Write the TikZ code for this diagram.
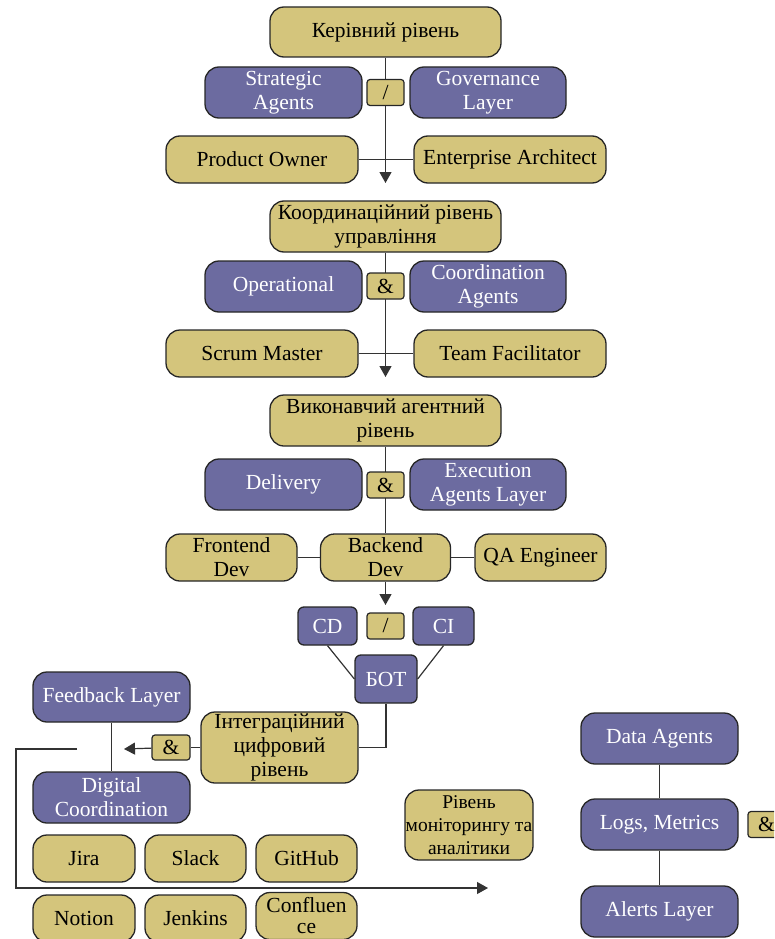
\documentclass[tikz,border=0pt]{standalone}
\usepackage{fontspec}
\setmainfont{Liberation Serif}
\usetikzlibrary{arrows.meta,backgrounds}
\definecolor{khaki}{RGB}{212,197,124}
\definecolor{slate}{RGB}{108,107,160}
\begin{document}
\begin{tikzpicture}[x=1pt,y=-1pt,
    box/.style={draw=black!85,line width=1.3pt,rounded corners=14pt,inner sep=0pt,
      align=center,font=\fontsize{21.5}{24}\selectfont},
    tanbox/.style={box,fill=khaki,text=black},
    bluebox/.style={box,fill=slate,text=white},
    op/.style={draw=black!85,line width=1.2pt,rounded corners=3pt,fill=khaki,inner sep=0pt,
      minimum width=37pt,minimum height=26pt,font=\fontsize{21.5}{24}\selectfont},
    link/.style={draw=black!80,line width=1.2pt},
    arr/.style={link,-{Triangle[width=12pt,length=11pt]}}]
\useasboundingbox (0,0) rectangle (774,939);
\clip (0,0) rectangle (774,939);
% level 1
\node[tanbox,minimum width=231pt,minimum height=50pt] (lvl1) at (385.5,32) {Керівний рівень};
\node[bluebox,minimum width=157pt,minimum height=51pt] (strat) at (283.5,92.5) {Strategic\\Agents};
\node[op] (or1) at (385.5,92.5) {/};
\node[bluebox,minimum width=156pt,minimum height=51pt] (gov) at (488,92.5) {Governance\\Layer};
\node[tanbox,minimum width=192pt,minimum height=47pt] (po) at (262,159.5) {Product Owner};
\node[tanbox,minimum width=192pt,minimum height=47pt] (ea) at (510,159.5) {Enterprise Architect};
\coordinate (tip1) at (385.5,183);
% level 2
\node[tanbox,minimum width=231pt,minimum height=51pt] (lvl2) at (385.5,226.5) {Координаційний рівень\\управління};
\node[bluebox,minimum width=157pt,minimum height=51pt] (oper) at (283.5,286.5) {Operational};
\node[op] (and1) at (385.5,286) {\&};
\node[bluebox,minimum width=156pt,minimum height=51pt] (coord) at (488,286.5) {Coordination\\Agents};
\node[tanbox,minimum width=192pt,minimum height=47pt] (sm) at (262,353.5) {Scrum Master};
\node[tanbox,minimum width=192pt,minimum height=47pt] (tf) at (510,353.5) {Team Facilitator};
\coordinate (tip2) at (385.5,377);
% level 3
\node[tanbox,minimum width=231pt,minimum height=51pt] (lvl3) at (385.5,420.5) {Виконавчий агентний\\рівень};
\node[bluebox,minimum width=157pt,minimum height=51pt] (deliv) at (283.5,484.5) {Delivery};
\node[op] (and2) at (385.5,485) {\&};
\node[bluebox,minimum width=156pt,minimum height=51pt] (exec) at (488,484.5) {Execution\\Agents Layer};
\node[tanbox,minimum width=131pt,minimum height=47pt] (fe) at (231.5,557.5) {Frontend\\Dev};
\node[tanbox,minimum width=130pt,minimum height=47pt] (be) at (385.5,557.5) {Backend\\Dev};
\node[tanbox,minimum width=131pt,minimum height=47pt] (qa) at (540.5,557.5) {QA Engineer};
\coordinate (tip3) at (385.5,605);
% ci/cd
\node[bluebox,rounded corners=6pt,minimum width=59pt,minimum height=38pt] (cd) at (327.5,626) {CD};
\node[op] (or2) at (385.5,626) {/};
\node[bluebox,rounded corners=6pt,minimum width=61pt,minimum height=38pt] (ci) at (443.5,626) {CI};
\node[bluebox,rounded corners=6pt,minimum width=62pt,minimum height=48pt] (bot) at (386,679) {БОТ};
% integration level
\node[tanbox,minimum width=157pt,minimum height=71pt] (lvl4) at (279.5,747.5) {Інтеграційний\\цифровий\\рівень};
\node[op,minimum width=38pt,minimum height=25pt] (and3) at (171,747.5) {\&};
\coordinate (tip4) at (124,749);
\node[bluebox,minimum width=157pt,minimum height=50pt] (fb) at (111.5,697) {Feedback Layer};
\node[bluebox,minimum width=157pt,minimum height=51pt] (dc) at (111.5,797.5) {Digital\\Coordination};
\node[tanbox,minimum width=102pt,minimum height=47pt] (jira) at (84,858.5) {Jira};
\node[tanbox,minimum width=101pt,minimum height=47pt] (slack) at (195.5,858.5) {Slack};
\node[tanbox,minimum width=101pt,minimum height=47pt] (gh) at (306.5,858.5) {GitHub};
\node[tanbox,minimum width=102pt,minimum height=47pt] (notion) at (84,918.5) {Notion};
\node[tanbox,minimum width=101pt,minimum height=47pt] (jenk) at (195.5,918.5) {Jenkins};
\node[tanbox,minimum width=101pt,minimum height=47pt,
  font=\fontsize{21.5}{21}\selectfont] (conf) at (306.5,916) {Confluen\\ce};
\coordinate (fbl) at (77,749);
\coordinate (fbc) at (16,749);
\coordinate (fbd) at (16,888);
\coordinate (tip5) at (488,888);
% monitoring level
\node[tanbox,minimum width=128pt,minimum height=70pt,
  font=\fontsize{19.5}{23}\selectfont] (lvl5) at (469,825) {Рівень\\моніторингу та\\аналітики};
\node[bluebox,minimum width=157pt,minimum height=51pt] (data) at (659.5,738.5) {Data Agents};
\node[bluebox,minimum width=157pt,minimum height=51pt] (logs) at (659.5,824.5) {Logs, Metrics};
\node[bluebox,minimum width=157pt,minimum height=51pt] (alert) at (659.5,911.5) {Alerts Layer};
\node[op] (and4) at (766.5,824.5) {\&};
\begin{pgfonlayer}{background}
\draw[arr] (lvl1) -- (tip1);
\draw[link] (po) -- (ea);
\draw[arr] (lvl2) -- (tip2);
\draw[link] (sm) -- (tf);
\draw[link] (lvl3) -- (be);
\draw[arr] (be) -- (tip3);
\draw[link] (fe) -- (be);
\draw[link] (be) -- (qa);
\draw[link] (cd.south) -- (bot.west);
\draw[link] (ci.south) -- (bot.east);
\draw[link] (bot.south) |- (lvl4.east);
\draw[link] (lvl4) -- (and3);
\draw[arr] (and3) -- (tip4);
\draw[link] (fb) -- (dc);
\draw[arr] (fbl) -- (fbc) -- (fbd) -- (tip5);
\draw[link] (data) -- (logs);
\draw[link] (logs) -- (alert);
\end{pgfonlayer}
\end{tikzpicture}
\end{document}
